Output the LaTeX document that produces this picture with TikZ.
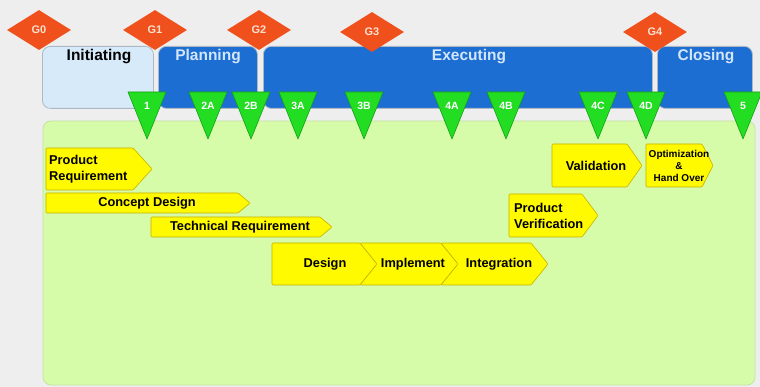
\documentclass[tikz,border=0pt]{standalone}
\usepackage{fontspec}
\setmainfont{Liberation Sans}
\usetikzlibrary{shapes.geometric}
\definecolor{bgc}{HTML}{EEEEEE}
\definecolor{initfill}{HTML}{D7EAFA}
\definecolor{bluefill}{HTML}{1C6ED2}
\definecolor{boxedge}{HTML}{AEB8C4}
\definecolor{bluetext}{HTML}{D4E6FA}
\definecolor{areafill}{HTML}{D6FBA9}
\definecolor{areaedge}{HTML}{C4E4A4}
\definecolor{gatefill}{HTML}{F0501C}
\definecolor{gatetext}{HTML}{FCE0D0}
\definecolor{trifill}{HTML}{22DD22}
\definecolor{triedge}{HTML}{14A014}
\definecolor{chevfill}{HTML}{FFFA00}
\definecolor{chevedge}{HTML}{C8B000}
\newcommand\chevshape[7]{%
  \draw[chev] (#2,#3) -- ({#4-#6},#3) -- (#4,{(#3+#5)/2}) -- ({#4-#6},#5) -- (#2,#5) -- ({#2+#7},{(#3+#5)/2}) -- cycle;
  \coordinate (#1) at ({(#2+#4)/2},{(#3+#5)/2});}
\newcommand\msone[3]{%
  \path[tri] ({#2-19},92) -- ({#2+19},92) -- (#2,139) -- cycle;
  \node[trilabel] (#1) at (#2,106) {#3};}
\begin{document}
\begin{tikzpicture}[x=1pt,y=-1pt,
  phasebox/.style={draw=boxedge, line width=0.8pt, rounded corners=8pt, minimum height=62pt, anchor=north west, inner sep=0pt},
  phaselabel/.style={font=\fontsize{15.5}{17}\selectfont\bfseries, inner sep=0pt},
  gate/.style={diamond, fill=gatefill, minimum width=64pt, minimum height=40pt, inner sep=0pt, font=\fontsize{11}{12}\selectfont\bfseries, text=gatetext},
  tri/.style={fill=trifill, draw=triedge, line width=0.6pt, line join=round},
  trilabel/.style={font=\fontsize{10.5}{12}\selectfont\bfseries, text=white, inner sep=0pt},
  chev/.style={fill=chevfill, draw=chevedge, line width=0.6pt, rounded corners=1pt},
  ytext/.style={font=\fontsize{12.8}{16}\selectfont\bfseries, inner sep=0pt}
]
\useasboundingbox (0,0) rectangle (760,387);
\fill[bgc] (0,0) rectangle (760,387);
% working area
\draw[fill=areafill, draw=areaedge, line width=0.8pt, rounded corners=8pt] (43,121) rectangle (755,385);
% phases
\node[phasebox, fill=initfill, minimum width=111pt] (pInit) at (42,46) {};
\node[phasebox, fill=bluefill, minimum width=99pt] (pPlan) at (158,46) {};
\node[phasebox, fill=bluefill, minimum width=389pt] (pExec) at (263,46) {};
\node[phasebox, fill=bluefill, minimum width=95pt] (pClose) at (657,46) {};
\node[phaselabel] (lInit) at (99,57) {Initiating};
\node[phaselabel, text=bluetext] (lPlan) at (208,57) {Planning};
\node[phaselabel, text=bluetext] (lExec) at (469,57) {Executing};
\node[phaselabel, text=bluetext] (lClose) at (706,57) {Closing};
% gates
\node[gate] (g0) at (39,30) {G0};
\node[gate] (g1) at (155,30) {G1};
\node[gate] (g2) at (259,30) {G2};
\node[gate] (g3) at (372,32) {G3};
\node[gate] (g4) at (655,32) {G4};
% milestones
\msone{m1}{147}{1}
\msone{m2a}{208}{2A}
\msone{m2b}{251}{2B}
\msone{m3a}{298}{3A}
\msone{m3b}{364}{3B}
\msone{m4a}{452}{4A}
\msone{m4b}{506}{4B}
\msone{m4c}{598}{4C}
\msone{m4d}{646}{4D}
\msone{m5}{743}{5}
% activities
\chevshape{cPR}{46}{148}{152}{190}{19}{0}
\node[ytext, anchor=west, align=left] (tPR) at (49,169) {Product\\Requirement};
\chevshape{cCD}{46}{193}{250}{213}{12}{0}
\node[ytext] (tCD) at (147,203.5) {Concept Design};
\chevshape{cTR}{151}{217}{332}{237}{12}{0}
\node[ytext] (tTR) at (240,227.5) {Technical Requirement};
\chevshape{cDe}{272}{243}{377}{285}{17}{0}
\node[ytext] (tDe) at (325,264.5) {Design};
\chevshape{cIm}{360}{243}{458}{285}{17}{17}
\node[ytext] (tIm) at (413,264.5) {Implement};
\chevshape{cIn}{441}{243}{548}{285}{17}{17}
\node[ytext] (tIn) at (499,264.5) {Integration};
\chevshape{cPV}{509}{194}{598}{237}{16}{0}
\node[ytext, anchor=west, align=left] (tPV) at (514,216) {Product\\Verification};
\chevshape{cVa}{552}{144}{642}{187}{15}{0}
\node[ytext] (tVa) at (596,166) {Validation};
\chevshape{cOp}{646}{144}{713}{187}{11}{0}
\node[font=\fontsize{10}{12}\selectfont\bfseries, inner sep=0pt, align=center] (tOp) at (679,166) {Optimization\\\&\\Hand Over};
\end{tikzpicture}
\end{document}
